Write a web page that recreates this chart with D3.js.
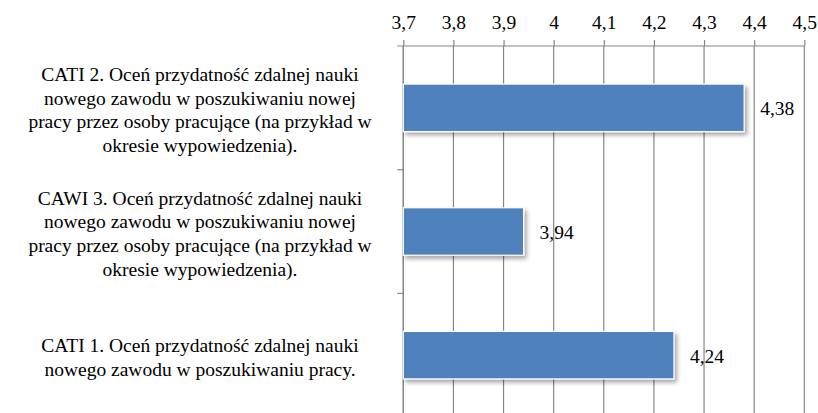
<!DOCTYPE html>
<html>
<head>
<meta charset="utf-8">
<script src="https://cdn.jsdelivr.net/npm/d3@7/dist/d3.min.js"></script>
<style>
  html, body { margin: 0; padding: 0; background: #fff; }
  svg { display: block; }
</style>
</head>
<body>
<svg id="chart" width="818" height="413"></svg>
<script>
// Categories, top to bottom, each split into its printed lines
const categories = ["CATI 2", "CAWI 3", "CATI 1"];
const categoryLines = [
  ["CATI 2. Oceń przydatność zdalnej nauki", "nowego zawodu w poszukiwaniu nowej", "pracy przez osoby pracujące (na przykład w", "okresie wypowiedzenia)."],
  ["CAWI 3. Oceń przydatność zdalnej nauki", "nowego zawodu w poszukiwaniu nowej", "pracy przez osoby pracujące (na przykład w", "okresie wypowiedzenia)."],
  ["CATI 1. Oceń przydatność zdalnej nauki", "nowego zawodu w poszukiwaniu pracy."]
];
const values = [4.38, 3.94, 4.24];
const tickValues = [3.7, 3.8, 3.9, 4.0, 4.1, 4.2, 4.3, 4.4, 4.5];

const pl = d3.formatLocale({ decimal: ",", thousands: " ", grouping: [3], currency: ["", " zł"] });
const fmt = pl.format("~g");

const serif = "'Liberation Serif', 'Times New Roman', Times, serif";
const svg = d3.select("#chart").attr("font-family", serif);
const plotLeft = 403.3, plotRight = 804.3, plotTop = 46, plotBottom = 417;
const fontSize = 19.5;

const x = d3.scaleLinear().domain([3.7, 4.5]).range([plotLeft, plotRight]);
const yBand = d3.scaleBand().domain(categories).range([plotTop, plotBottom]).padding(0);
const yBar = d3.scaleBand().domain(categories).range([plotTop, plotBottom])
  .paddingInner(0.616).paddingOuter(0.308);

// Drop shadow for bars
const defs = svg.append("defs");
const f = defs.append("filter").attr("id", "shadow")
  .attr("x", "-10%").attr("y", "-20%").attr("width", "130%").attr("height", "160%");
f.append("feDropShadow").attr("dx", 2.5).attr("dy", 3).attr("stdDeviation", 2)
  .attr("flood-color", "#000").attr("flood-opacity", 0.35);

const gridColor = "#868686";

// Vertical gridlines
svg.append("g").selectAll("line").data(tickValues).join("line")
  .attr("x1", d => x(d)).attr("x2", d => x(d))
  .attr("y1", plotTop).attr("y2", plotBottom)
  .attr("stroke", gridColor).attr("stroke-width", 1.2);

// Top value axis
const xAxis = svg.append("g").attr("transform", `translate(0,${plotTop})`)
  .call(d3.axisTop(x).tickValues(tickValues).tickFormat(fmt).tickSizeInner(6).tickSizeOuter(0).tickPadding(11));
xAxis.attr("font-family", serif).attr("font-size", fontSize);
xAxis.select(".domain").remove();
xAxis.selectAll(".tick line").attr("stroke", gridColor).attr("stroke-width", 1.2);
xAxis.selectAll(".tick text").attr("fill", "#000");
svg.append("line").attr("x1", plotLeft - 6).attr("x2", plotRight).attr("y1", plotTop).attr("y2", plotTop)
  .attr("stroke", gridColor).attr("stroke-width", 1.2);

// Left category axis: line and boundary ticks
svg.append("line").attr("x1", plotLeft).attr("x2", plotLeft).attr("y1", plotTop).attr("y2", plotBottom)
  .attr("stroke", gridColor).attr("stroke-width", 1.2);
svg.append("g").selectAll("line").data(categories.slice(1)).join("line")
  .attr("x1", plotLeft - 6).attr("x2", plotLeft)
  .attr("y1", d => yBand(d)).attr("y2", d => yBand(d))
  .attr("stroke", gridColor).attr("stroke-width", 1.2);

// Bars
svg.append("g").selectAll("rect").data(values).join("rect")
  .attr("x", x(3.7))
  .attr("y", (d, i) => yBar(categories[i]))
  .attr("width", d => x(d) - x(3.7))
  .attr("height", yBar.bandwidth())
  .attr("fill", "#4F81BD")
  .attr("stroke", "#fff").attr("stroke-width", 1.2)
  .attr("filter", "url(#shadow)");

// Value labels
svg.append("g").selectAll("text").data(values).join("text")
  .attr("x", d => x(d) + 16)
  .attr("y", (d, i) => yBand(categories[i]) + yBand.bandwidth() / 2)
  .attr("dy", "0.38em")
  .attr("font-size", fontSize)
  .attr("fill", "#000")
  .text(d => fmt(d));

// Category labels
const lineH = 23.6;
const cat = svg.append("g").selectAll("text").data(categoryLines).join("text")
  .attr("text-anchor", "middle")
  .attr("font-size", fontSize)
  .attr("fill", "#000");
cat.each(function(lines, i) {
  const cy = yBand(categories[i]) + yBand.bandwidth() / 2;
  d3.select(this).selectAll("tspan").data(lines).join("tspan")
    .attr("x", 200)
    .attr("y", (l, j) => cy + (j - (lines.length - 1) / 2) * lineH)
    .attr("dy", "0.45em")
    .text(l => l);
});
</script>
</body>
</html>
